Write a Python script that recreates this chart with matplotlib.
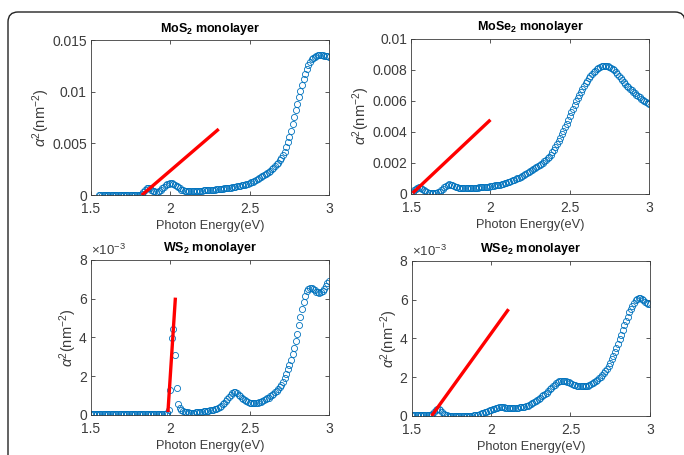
import numpy as np
import matplotlib
matplotlib.use('Agg')
import matplotlib.pyplot as plt
from matplotlib.patches import FancyBboxPatch
from matplotlib.ticker import FuncFormatter, MultipleLocator


plt.rcParams['font.family'] = ['Liberation Sans', 'DejaVu Sans']
plt.rcParams['mathtext.fontset'] = 'custom'
plt.rcParams['mathtext.rm'] = 'Liberation Sans'
plt.rcParams['mathtext.it'] = 'Liberation Sans:italic'
plt.rcParams['mathtext.bf'] = 'Liberation Sans:bold'

BLUE = '#0072BD'
GRAY = '#3c3c3c'

# photon energy grid (eV), 0.01 eV steps
energy = np.round(np.arange(150, 301) / 100.0, 2)
energy_mos2 = energy[5:]  # MoS2 data starts at 1.55 eV

# alpha^2 values, in units of 1e-3 nm^-2
mos2 = [
    0.02, 0.02, 0.02, 0.02, 0.02, 0.02, 0.02, 0.02, 0.02, 0.02,   # 1.55
    0.02, 0.02, 0.02, 0.02, 0.02, 0.02, 0.02, 0.02, 0.02, 0.02,   # 1.65
    0.02, 0.02, 0.02, 0.02, 0.02, 0.02, 0.03, 0.10, 0.30, 0.50,   # 1.75
    0.65, 0.70, 0.65, 0.55, 0.45, 0.40, 0.35, 0.35, 0.40, 0.50,   # 1.85
    0.65, 0.80, 0.95, 1.05, 1.12, 1.15, 1.15, 1.10, 1.00, 0.90,   # 1.95
    0.75, 0.65, 0.55, 0.50, 0.45, 0.45, 0.42, 0.40, 0.40, 0.40,   # 2.05
    0.40, 0.41, 0.42, 0.43, 0.44, 0.45, 0.46, 0.47, 0.48, 0.50,   # 2.15
    0.51, 0.52, 0.53, 0.55, 0.56, 0.58, 0.60, 0.62, 0.64, 0.66,   # 2.25
    0.68, 0.70, 0.72, 0.74, 0.77, 0.80, 0.83, 0.86, 0.89, 0.92,   # 2.35
    0.95, 0.98, 1.02, 1.06, 1.12, 1.18, 1.25, 1.32, 1.40, 1.48,   # 2.45
    1.56, 1.65, 1.75, 1.85, 1.95, 2.05, 2.15, 2.25, 2.38, 2.50,   # 2.55
    2.65, 2.80, 2.98, 3.16, 3.36, 3.58, 3.85, 4.20, 4.62, 5.10,   # 2.65
    5.65, 6.25, 6.90, 7.55, 8.20, 8.85, 9.50, 10.10, 10.70, 11.25,  # 2.75
    11.75, 12.20, 12.60, 12.90, 13.15, 13.30, 13.40, 13.48, 13.54, 13.58,  # 2.85
    13.58, 13.55, 13.50, 13.45, 13.42, 13.40,                     # 2.95
]

mose2 = [
    0.05, 0.12, 0.22, 0.32, 0.40, 0.43, 0.40, 0.33, 0.25, 0.18,   # 1.50
    0.12, 0.08, 0.06, 0.05, 0.05, 0.06, 0.08, 0.11, 0.15, 0.22,   # 1.60
    0.32, 0.43, 0.52, 0.58, 0.61, 0.60, 0.56, 0.51, 0.46, 0.42,   # 1.70
    0.39, 0.37, 0.36, 0.35, 0.35, 0.35, 0.35, 0.36, 0.36, 0.37,   # 1.80
    0.38, 0.39, 0.40, 0.41, 0.42, 0.43, 0.44, 0.45, 0.46, 0.47,   # 1.90
    0.48, 0.50, 0.52, 0.54, 0.56, 0.58, 0.60, 0.63, 0.66, 0.69,   # 2.00
    0.72, 0.75, 0.79, 0.83, 0.87, 0.91, 0.95, 1.00, 1.05, 1.10,   # 2.10
    1.16, 1.22, 1.28, 1.34, 1.41, 1.48, 1.55, 1.62, 1.68, 1.74,   # 2.20
    1.80, 1.87, 1.94, 2.01, 2.09, 2.18, 2.28, 2.40, 2.53, 2.67,   # 2.30
    2.83, 3.00, 3.18, 3.38, 3.60, 3.83, 4.06, 4.30, 4.53, 4.77,   # 2.40
    5.01, 5.25, 5.49, 5.73, 5.96, 6.18, 6.39, 6.59, 6.78, 6.96,   # 2.50
    7.13, 7.29, 7.44, 7.58, 7.71, 7.83, 7.93, 8.02, 8.10, 8.16,   # 2.60
    8.21, 8.24, 8.25, 8.24, 8.21, 8.16, 8.10, 8.03, 7.95, 7.85,   # 2.70
    7.74, 7.62, 7.49, 7.36, 7.23, 7.10, 6.98, 6.87, 6.76, 6.66,   # 2.80
    6.56, 6.47, 6.38, 6.29, 6.21, 6.13, 6.06, 5.99, 5.92, 5.85,   # 2.90
    5.80,                                                         # 3.00
]

ws2 = [
    0.05, 0.05, 0.05, 0.05, 0.05, 0.05, 0.05, 0.05, 0.05, 0.05,   # 1.50
    0.05, 0.05, 0.05, 0.05, 0.05, 0.05, 0.05, 0.05, 0.05, 0.05,   # 1.60
    0.05, 0.05, 0.05, 0.05, 0.05, 0.05, 0.05, 0.05, 0.05, 0.05,   # 1.70
    0.05, 0.05, 0.05, 0.05, 0.05, 0.05, 0.05, 0.05, 0.05, 0.05,   # 1.80
    0.05, 0.05, 0.05, 0.05, 0.05, 0.05, 0.06, 0.07, 0.10, 0.25,   # 1.90
    1.28, 3.96, 4.42, 3.09, 1.40, 0.59, 0.35, 0.24, 0.19, 0.16,   # 2.00
    0.14, 0.13, 0.12, 0.12, 0.12, 0.12, 0.13, 0.14, 0.15, 0.16,   # 2.10
    0.17, 0.18, 0.19, 0.20, 0.22, 0.24, 0.26, 0.28, 0.30, 0.33,   # 2.20
    0.37, 0.42, 0.48, 0.55, 0.63, 0.72, 0.82, 0.93, 1.04, 1.13,   # 2.30
    1.18, 1.18, 1.13, 1.05, 0.96, 0.88, 0.81, 0.75, 0.70, 0.67,   # 2.40
    0.64, 0.62, 0.61, 0.61, 0.62, 0.64, 0.66, 0.69, 0.72, 0.76,   # 2.50
    0.80, 0.85, 0.90, 0.96, 1.02, 1.09, 1.17, 1.25, 1.34, 1.44,   # 2.60
    1.56, 1.70, 1.88, 2.10, 2.35, 2.60, 2.85, 3.15, 3.45, 3.80,   # 2.70
    4.20, 4.62, 5.05, 5.45, 5.85, 6.15, 6.37, 6.50, 6.55, 6.53,   # 2.80
    6.48, 6.42, 6.36, 6.32, 6.31, 6.33, 6.40, 6.50, 6.64, 6.78,   # 2.90
    6.90,                                                         # 3.00
]

wse2 = [
    0.04, 0.04, 0.04, 0.04, 0.04, 0.04, 0.04, 0.04, 0.04, 0.04,   # 1.50
    0.04, 0.04, 0.05, 0.10, 0.20, 0.30, 0.36, 0.36, 0.30, 0.20,   # 1.60
    0.11, 0.05, 0.02, 0.00, 0.00, 0.00, 0.00, 0.00, 0.00, 0.00,   # 1.70
    0.00, 0.00, 0.00, 0.00, 0.00, 0.00, 0.00, 0.00, 0.01, 0.02,   # 1.80
    0.03, 0.05, 0.07, 0.10, 0.13, 0.16, 0.19, 0.22, 0.25, 0.28,   # 1.90
    0.31, 0.34, 0.37, 0.40, 0.42, 0.44, 0.45, 0.45, 0.44, 0.43,   # 2.00
    0.42, 0.41, 0.40, 0.40, 0.40, 0.41, 0.42, 0.43, 0.44, 0.45,   # 2.10
    0.46, 0.48, 0.50, 0.53, 0.57, 0.61, 0.66, 0.71, 0.76, 0.82,   # 2.20
    0.88, 0.94, 1.00, 1.06, 1.13, 1.20, 1.28, 1.36, 1.44, 1.53,   # 2.30
    1.61, 1.68, 1.74, 1.78, 1.81, 1.82, 1.82, 1.80, 1.77, 1.73,   # 2.40
    1.69, 1.65, 1.61, 1.58, 1.56, 1.54, 1.53, 1.52, 1.52, 1.53,   # 2.50
    1.54, 1.56, 1.59, 1.63, 1.68, 1.73, 1.79, 1.86, 1.93, 2.01,   # 2.60
    2.10, 2.20, 2.31, 2.44, 2.58, 2.74, 2.91, 3.09, 3.29, 3.50,   # 2.70
    3.72, 3.95, 4.19, 4.43, 4.67, 4.90, 5.12, 5.33, 5.52, 5.69,   # 2.80
    5.84, 5.96, 6.05, 6.09, 6.08, 6.03, 5.96, 5.89, 5.83, 5.78,   # 2.90
    5.75,                                                         # 3.00
]

# linear fits (end points, eV and 1e-3 nm^-2)
fit_mos2_x = [1.82, 2.305]
fit_mos2_y = [0.0, 6.39]
fit_mose2_x = [1.51, 2.0]
fit_mose2_y = [0.05, 4.77]
fit_ws2_x = [1.985, 2.032]
fit_ws2_y = [0.15, 6.05]
fit_wse2_x = [1.625, 2.11]
fit_wse2_y = [0.0, 5.5]

titles = [r'MoS$_{\mathbf{2}}$ monolayer', r'MoSe$_{\mathbf{2}}$ monolayer',
          r'WS$_{\mathbf{2}}$ monolayer', r'WSe$_{\mathbf{2}}$ monolayer']


def style_axes(ax, title, ymax, ystep, scaled):
    ax.set_xlim(1.5, 3.0)
    ax.set_ylim(0, ymax)
    ax.xaxis.set_major_locator(MultipleLocator(0.5))
    ax.yaxis.set_major_locator(MultipleLocator(ystep))
    fmt = FuncFormatter(lambda v, p: '%g' % round(v, 6))
    ax.xaxis.set_major_formatter(fmt)
    ax.yaxis.set_major_formatter(fmt)
    ax.tick_params(direction='in', top=True, right=True, length=3, width=0.6,
                   colors=GRAY, labelsize=10)
    ax.tick_params(axis='x', pad=5)
    ax.tick_params(axis='y', pad=3)
    for sp in ax.spines.values():
        sp.set_linewidth(0.6)
        sp.set_color(GRAY)
    ax.set_title(title, fontsize=9, fontweight='bold', color='black', pad=6)
    ax.set_xlabel('Photon Energy(eV)', fontsize=9.2, color=GRAY, labelpad=3)
    ax.set_ylabel(r'$\alpha^2$(nm$^{-2}$)', fontsize=10.5, color=GRAY, labelpad=0)
    if scaled:
        ax.text(0.0, 1.01, r'$\times10^{-3}$', transform=ax.transAxes,
                fontsize=9.5, color=GRAY, ha='left', va='bottom')


def main() -> None:
    fig = plt.figure(figsize=(6.84, 4.55), dpi=100)

    frame = FancyBboxPatch((0.08, -0.4), 6.77, 4.83,
                           boxstyle='round,pad=0,rounding_size=0.1',
                           transform=fig.dpi_scale_trans, fill=False,
                           ec='#222222', lw=1.0)
    fig.patches.append(frame)

    w, h = 0.348, 0.341
    ax1 = fig.add_axes([0.133, 0.571, w, h])
    ax2 = fig.add_axes([0.601, 0.574, w, h])
    ax3 = fig.add_axes([0.133, 0.088, w, h])
    ax4 = fig.add_axes([0.602, 0.086, w, h])

    mk = dict(linestyle='none', marker='o', markersize=4.4, mfc='none',
              mec=BLUE, mew=0.6)
    red = dict(color='#ff0000', lw=2.4, solid_capstyle='butt')

    ax1.plot(energy_mos2, np.array(mos2) * 1e-3, **mk)
    ax1.plot(fit_mos2_x, np.array(fit_mos2_y) * 1e-3, **red)
    style_axes(ax1, titles[0], 0.015, 0.005, False)

    ax2.plot(energy, np.array(mose2) * 1e-3, **mk)
    ax2.plot(fit_mose2_x, np.array(fit_mose2_y) * 1e-3, **red)
    style_axes(ax2, titles[1], 0.01, 0.002, False)

    ax3.plot(energy, ws2, **mk)
    ax3.plot(fit_ws2_x, fit_ws2_y, **red)
    style_axes(ax3, titles[2], 8, 2, True)

    ax4.plot(energy, wse2, **mk)
    ax4.plot(fit_wse2_x, fit_wse2_y, **red)
    style_axes(ax4, titles[3], 8, 2, True)

    fig.savefig('out.png', dpi=100)


if __name__ == '__main__':
    main()
